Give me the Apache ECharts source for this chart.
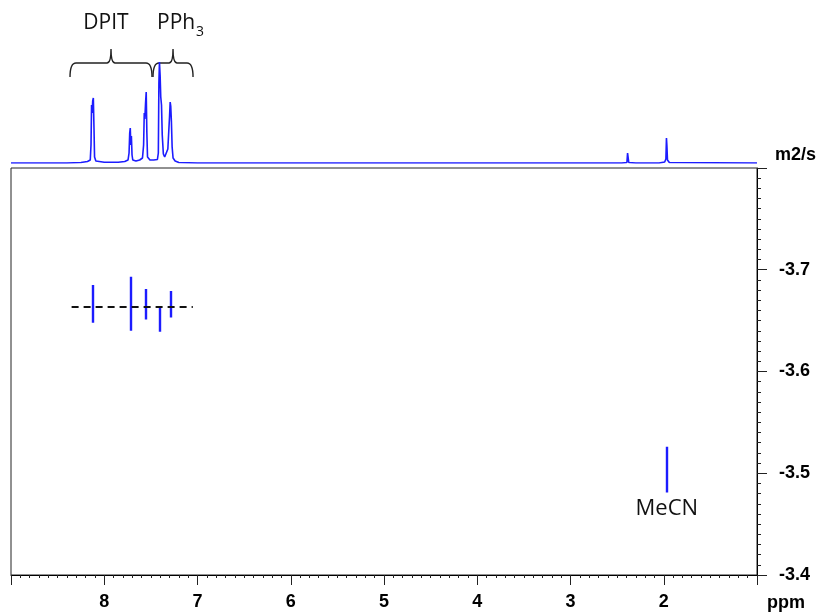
<!DOCTYPE html>
<html lang="en" style="height: 100%">
<head>
  <meta charset="utf-8">
  <title>DOSY</title>
</head>
<body style="height: 100%; margin: 0; background: #fff">
  <div id="container" style="width: 827px; height: 614px"></div>

  <script type="text/javascript" src="https://cdn.jsdelivr.net/npm/echarts@6/dist/echarts.min.js"></script>
  <script type="text/javascript">
    // 1D projection on top: [ppm, intensity]
    const spectrum = [
      [9.0, 0], [8.40, 0], [8.25, 0.5], [8.18, 1.5], [8.15, 3], [8.142, 18], [8.136, 58], [8.130, 50],
      [8.124, 62], [8.117, 65], [8.110, 35], [8.104, 6], [8.09, 2], [8.0, 0.7], [7.85, 0.7],
      [7.78, 1.5], [7.745, 3], [7.734, 10], [7.727, 30], [7.721, 35], [7.715, 18], [7.709, 27],
      [7.702, 8], [7.694, 3], [7.66, 2], [7.62, 3], [7.59, 5], [7.578, 18], [7.571, 50], [7.565, 44],
      [7.557, 60], [7.550, 71], [7.543, 30], [7.536, 6], [7.51, 3], [7.47, 3], [7.43, 3.5],
      [7.420, 10], [7.414, 80], [7.408, 101], [7.401, 88], [7.394, 66], [7.386, 58], [7.378, 28],
      [7.366, 9], [7.352, 6], [7.333, 8], [7.318, 14], [7.308, 32], [7.300, 46], [7.293, 61],
      [7.287, 57], [7.280, 42], [7.272, 16], [7.262, 5], [7.24, 2], [7.20, 0.5], [7.0, 0],
      [2.45, 0], [2.395, 0.5], [2.388, 10], [2.382, 9], [2.375, 0.5], [2.30, 0],
      [2.05, 0], [1.99, 1], [1.977, 4], [1.971, 25], [1.966, 17], [1.960, 3], [1.94, 0.5], [1.0, 0]
    ];

    // brace annotations above the projection
    const braceFrom = [8.367, 7.477];
    const braceTo = [7.488, 7.048];
    const braceNames = ['DPIT', 'PPh'];
    const braceSub = ['', '3'];

    // 2D cross peaks: ppm and diffusion range (log m2/s)
    const peakPpm = [8.12, 7.716, 7.552, 7.40, 7.284, 1.967];
    const peakTop = [-3.685, -3.693, -3.681, -3.664, -3.679, -3.526];
    const peakBottom = [-3.648, -3.640, -3.651, -3.639, -3.653, -3.481];

    // dashed guide through DPIT / PPh3 signals
    const guideLine = [[8.35, -3.664], [7.05, -3.664]];

    const solventLabel = { name: 'MeCN', ppm: 1.967, value: -3.4655 };

    const blue = '#1c1cff';

    var dom = document.getElementById('container');
    var myChart = echarts.init(dom, null, { renderer: 'canvas' });

    const braceData = braceFrom.map(function (v, i) {
      return [v, braceTo[i], braceNames[i], braceSub[i]];
    });

    const tickFont = { color: '#000', fontSize: 18, fontWeight: 'bold', fontFamily: 'Liberation Sans, Arial, sans-serif' };

    var option = {
      animation: false,
      backgroundColor: '#fff',
      grid: [
        { left: 11, right: 70, top: 10, height: 153 },
        { left: 11, right: 70, top: 168, bottom: 39, show: true, borderColor: '#222', borderWidth: 1 }
      ],
      xAxis: [
        { gridIndex: 0, type: 'value', min: 1, max: 9, inverse: true, show: false },
        {
          gridIndex: 1, type: 'value', min: 1, max: 9, interval: 1, inverse: true,
          name: 'ppm', nameLocation: 'start', nameGap: 10,
          nameTextStyle: Object.assign({}, tickFont, { align: 'left', verticalAlign: 'top', padding: [19, 0, 0, 0] }),
          axisLine: { lineStyle: { color: '#000', width: 1 } },
          axisTick: { length: 10, lineStyle: { color: '#222' } },
          minorTick: { show: true, splitNumber: 10, length: 3, lineStyle: { color: '#222' } },
          axisLabel: Object.assign({ margin: 18, showMinLabel: false, showMaxLabel: false }, tickFont),
          splitLine: { show: false }
        }
      ],
      yAxis: [
        { gridIndex: 0, type: 'value', min: 0, max: 153, show: false },
        {
          gridIndex: 1, type: 'value', position: 'right', min: -3.8, max: -3.4, interval: 0.1, inverse: true,
          name: 'm2/s', nameLocation: 'start', nameGap: 4,
          nameTextStyle: Object.assign({}, tickFont, { align: 'left', padding: [0, 0, 0, 18] }),
          axisLine: { show: true, lineStyle: { color: '#000', width: 1 } },
          axisTick: { length: 10, lineStyle: { color: '#222' } },
          minorTick: { show: true, splitNumber: 10, length: 4, lineStyle: { color: '#222' } },
          axisLabel: Object.assign({
            margin: 22, showMinLabel: false,
            formatter: function (v) { return v.toFixed(1); }
          }, tickFont),
          splitLine: { show: false }
        }
      ],
      series: [
        {
          type: 'line', xAxisIndex: 0, yAxisIndex: 0, data: spectrum,
          symbol: 'none', smooth: false,
          lineStyle: { color: blue, width: 1.6 }
        },
        {
          type: 'custom', xAxisIndex: 0, yAxisIndex: 0, data: braceData,
          renderItem: function (params, api) {
            const x0 = api.coord([api.value(0), 0])[0];
            const x1 = api.coord([api.value(1), 0])[0];
            const xm = (x0 + x1) / 2;
            const yEnd = api.coord([0, 86])[1];
            const yH = api.coord([0, 100])[1];
            const yTip = api.coord([0, 114])[1];
            const path = 'M' + x0 + ',' + yEnd + ' Q' + x0 + ',' + yH + ' ' + (x0 + 6) + ',' + yH +
              ' L' + (xm - 4) + ',' + yH + ' Q' + xm + ',' + yH + ' ' + xm + ',' + yTip +
              ' Q' + xm + ',' + yH + ' ' + (xm + 4) + ',' + yH +
              ' L' + (x1 - 6) + ',' + yH + ' Q' + x1 + ',' + yH + ' ' + x1 + ',' + yEnd;
            const name = api.value(2);
            const sub = api.value(3);
            const yText = api.coord([0, 140])[1];
            const textFont = '21px "Open Sans", "Noto Sans", sans-serif';
            const children = [
              { type: 'path', shape: { pathData: path }, style: { fill: null, stroke: '#222', lineWidth: 1.4 } }
            ];
            if (sub) {
              children.push({ type: 'text', style: { text: name, x: xm - 16, y: yText, font: textFont, fill: '#111', align: 'left', verticalAlign: 'middle' } });
              children.push({ type: 'text', style: { text: sub, x: xm + 23, y: yText + 9, font: '14px "Open Sans", "Noto Sans", sans-serif', fill: '#111', align: 'left', verticalAlign: 'middle' } });
            } else {
              children.push({ type: 'text', style: { text: name, x: xm - 5, y: yText, font: textFont, fill: '#111', align: 'center', verticalAlign: 'middle' } });
            }
            return { type: 'group', children: children };
          }
        },
        {
          type: 'lines', coordinateSystem: 'cartesian2d', xAxisIndex: 1, yAxisIndex: 1,
          data: peakPpm.map(function (p, i) {
            return { coords: [[p, peakTop[i]], [p, peakBottom[i]]] };
          }),
          lineStyle: { color: blue, width: 2.4, opacity: 1 },
          z: 3
        },
        {
          type: 'lines', coordinateSystem: 'cartesian2d', xAxisIndex: 1, yAxisIndex: 1,
          data: [{ coords: guideLine }],
          lineStyle: { color: '#111', width: 2, type: [7, 5], opacity: 1 },
          z: 4
        },
        {
          type: 'scatter', xAxisIndex: 1, yAxisIndex: 1, symbolSize: 0,
          data: [[solventLabel.ppm, solventLabel.value]],
          itemStyle: { opacity: 1 },
          label: {
            show: true, position: 'inside', formatter: solventLabel.name,
            color: '#111', fontSize: 22, fontFamily: '"Open Sans", "Noto Sans", sans-serif'
          }
        }
      ]
    };

    myChart.setOption(option);
    window.addEventListener('resize', myChart.resize);
  </script>
</body>
</html>
